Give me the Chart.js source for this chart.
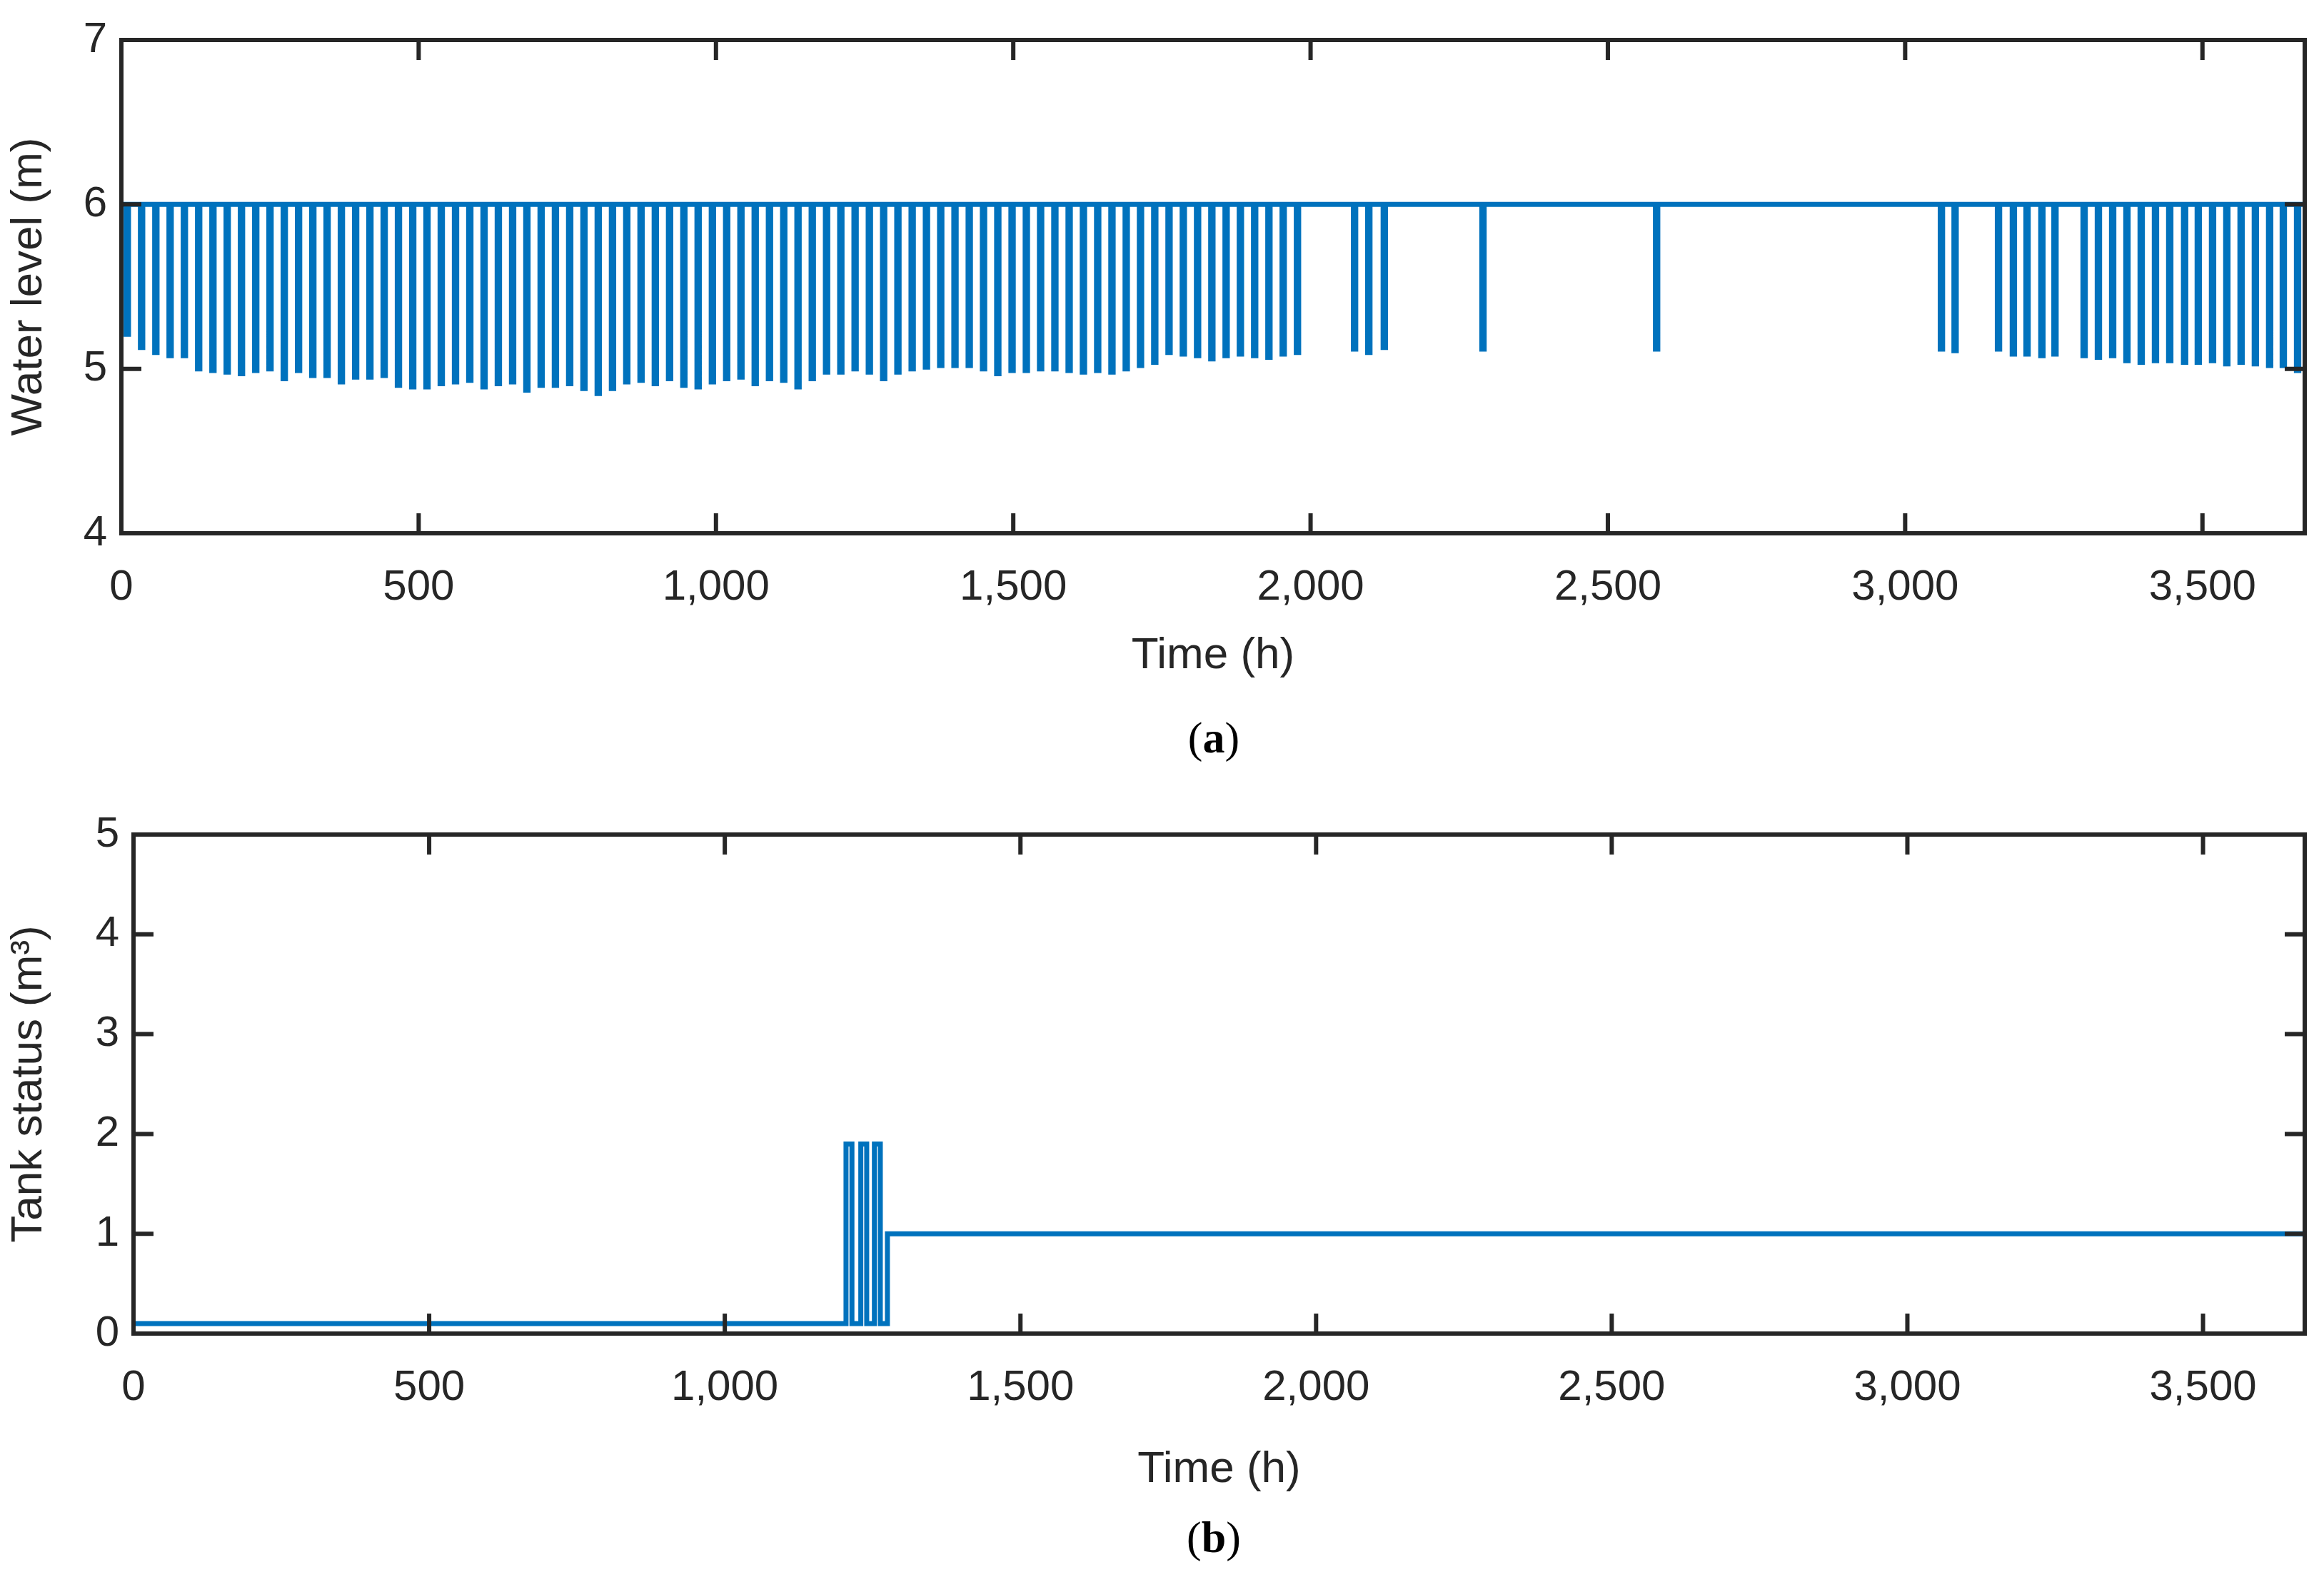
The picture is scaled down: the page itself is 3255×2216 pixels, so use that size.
<!DOCTYPE html>
<html><head><meta charset="utf-8">
<script src="https://cdn.jsdelivr.net/npm/chart.js@4"></script>
<style>
body{margin:0;background:#fff;width:3255px;height:2216px;position:relative;overflow:hidden;font-family:"Liberation Sans",Arial,sans-serif}
.c{position:absolute;left:0}
.lab{position:absolute;font-family:"Liberation Serif","Times New Roman",serif;font-size:62px;left:0;width:3400px;text-align:center}
</style></head><body>
<div class="c" style="top:0;width:3255px;height:960px"><canvas id="c1"></canvas></div>
<div class="c" style="top:1100px;width:3255px;height:1000px"><canvas id="c2"></canvas></div>
<div class="lab" style="top:998px">(<b>a</b>)</div>
<div class="lab" style="top:2118px">(<b>b</b>)</div>
<script>
// Panel (a): water level dips (time in h, minimum level in m); level otherwise 6 m
const dipTimes=[10,34,58,82,106,130,154,178,202,226,250,274,298,322,346,370,394,418,442,466,490,514,538,562,586,610,634,658,682,706,730,754,778,802,826,850,874,898,922,946,970,994,1018,1042,1066,1090,1114,1138,1162,1186,1210,1234,1258,1282,1306,1330,1354,1378,1402,1426,1450,1474,1498,1522,1546,1570,1594,1618,1642,1666,1690,1714,1738,1762,1786,1810,1834,1858,1882,1906,1930,1954,1978,
2074,2098,2124,2290,2582,3061,3084,3157,3182,3205,3230,3252,3301,3325,3349,3373,3397,3421,3445,3470,3493,3517,3541,3565,3589,3613,3636,3660];
const dipLevels=[5.21,5.13,5.10,5.08,5.08,5.00,4.99,4.98,4.97,4.99,
5.00,4.94,4.99,4.96,4.96,4.92,4.95,4.95,4.96,4.90,
4.89,4.89,4.91,4.92,4.93,4.89,4.91,4.92,4.87,4.90,
4.90,4.91,4.88,4.85,4.88,4.92,4.93,4.91,4.94,4.90,
4.89,4.92,4.94,4.95,4.91,4.94,4.93,4.89,4.94,4.98,
4.98,5.00,4.98,4.94,4.98,5.00,5.01,5.02,5.02,5.02,
5.00,4.97,4.99,4.99,5.00,5.00,4.99,4.98,4.99,4.98,
5.00,5.02,5.04,5.10,5.09,5.08,5.06,5.08,5.09,5.08,
5.07,5.09,5.10,
5.12,5.10,5.13,5.12,5.12,5.12,5.11,5.12,5.09,5.09,5.08,5.09,5.08,5.07,5.08,5.05,5.04,5.05,5.05,5.04,5.04,5.05,5.03,5.04,5.03,5.02,5.02,4.99,4.98];
const fullLevel=6;
// Panel (b): tank status step series
const statusTimes=[0,1205,1205,1215,1215,1230,1230,1240,1240,1253,1253,1263,1263,1275,1275,1285,3672];
const statusValues=[0.1,0.1,1.9,1.9,0.1,0.1,1.9,1.9,0.1,0.1,1.9,1.9,0.1,0.1,1.0,1.0,1.0];
const xTicks=[0,500,1000,1500,2000,2500,3000,3500];
const xMax=3672;

const lvl=[{x:0,y:fullLevel}];
dipTimes.forEach((t,i)=>{lvl.push({x:t-2,y:fullLevel},{x:t-2,y:dipLevels[i]},{x:t+2,y:dipLevels[i]},{x:t+2,y:fullLevel});});
lvl.push({x:xMax,y:fullLevel});
const st=statusTimes.map((t,i)=>({x:t,y:statusValues[i]}));

const blue='#0072BD',ink='#262626';
const boxPlugin={id:'box',afterDraw(ch){
 const c=ch.ctx,a=ch.chartArea,xs=ch.scales.x,ys=ch.scales.y;
 c.save();c.strokeStyle=ink;c.lineWidth=6;
 c.strokeRect(a.left,a.top,a.right-a.left,a.bottom-a.top);
 c.lineWidth=6;c.beginPath();
 xs.ticks.forEach(t=>{const p=xs.getPixelForValue(t.value);c.moveTo(p,a.bottom);c.lineTo(p,a.bottom-28);c.moveTo(p,a.top);c.lineTo(p,a.top+28);});
 ys.ticks.forEach(t=>{const p=ys.getPixelForValue(t.value);c.moveTo(a.left,p);c.lineTo(a.left+28,p);c.moveTo(a.right,p);c.lineTo(a.right-28,p);});
 c.stroke();c.restore();}};

function mk(id,data,ymin,ymax,ytitle,yw,pad,xh){
 new Chart(document.getElementById(id),{type:'line',
 data:{datasets:[{data,borderColor:blue,borderWidth:7,pointRadius:0,tension:0,fill:false}]},
 options:{responsive:true,maintainAspectRatio:false,animation:false,devicePixelRatio:1,
  layout:{padding:{top:pad,right:27,left:0,bottom:0}},
  plugins:{legend:{display:false},tooltip:{enabled:false}},
  scales:{
   x:{type:'linear',min:0,max:xMax,afterBuildTicks:s=>{s.ticks=xTicks.map(v=>({value:v}));},
      grid:{display:false,drawTicks:false},border:{display:false},
      ticks:{color:ink,font:{size:60,family:'Liberation Sans'},padding:40,maxRotation:0},
      title:{display:true,text:'Time (h)',color:ink,font:{size:62,family:'Liberation Sans'},padding:{top:8}},
      afterFit:s=>{s.height=xh;}},
   y:{min:ymin,max:ymax,ticks:{stepSize:1,color:ink,font:{size:60,family:'Liberation Sans'},padding:20},
      grid:{display:false,drawTicks:false},border:{display:false},
      title:{display:true,text:ytitle,color:ink,font:{size:62,family:'Liberation Sans'}},
      afterFit:s=>{s.width=yw;}}}},
 plugins:[boxPlugin]});
}
mk('c1',lvl,4,7,'Water level (m)',170,37,213);
mk('c2',st,0,5,'Tank status (m³)',187,69,232);
</script></body></html>
